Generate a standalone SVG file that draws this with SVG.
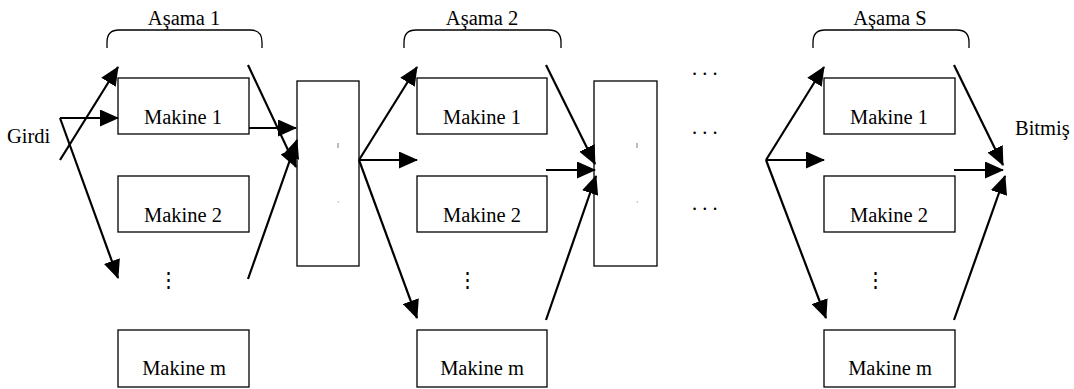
<svg xmlns="http://www.w3.org/2000/svg" width="1074" height="389" viewBox="0 0 1074 389" font-family="'Liberation Serif', 'DejaVu Serif', serif">
  <style>
    text { font-family: 'Liberation Serif', 'DejaVu Serif', serif; font-size: 20.5px; fill: #000; }
    .mid { text-anchor: middle; }
    .box { fill: #fff; stroke: #000; stroke-width: 1.3; }
    .brace { fill: none; stroke: #000; stroke-width: 1.3; }
    .arrow { fill: none; stroke: #000; stroke-width: 2.2; marker-end: url(#head); }
    .tick { stroke: #555; stroke-width: 0.8; }
  </style>
  <defs>
    <marker id="head" markerUnits="userSpaceOnUse" markerWidth="19" markerHeight="17" viewBox="0 0 19 17" refX="18" refY="8.5" orient="auto">
      <path d="M0,0 L19,8.5 L0,17 Z" fill="#000"/>
    </marker>
  </defs>

  <!-- stage headers -->
  <g id="stage1-header">
    <path class="brace" d="M107,48 V42 Q107,30 119,30 H250 Q262,30 262,42 V48"/>
    <text class="mid" x="184" y="25">Aşama 1</text>
  </g>
  <g id="stage2-header">
    <path class="brace" d="M404,48 V42 Q404,30 416,30 H549 Q561,30 561,42 V48"/>
    <text class="mid" x="482" y="25">Aşama 2</text>
  </g>
  <g id="stageS-header">
    <path class="brace" d="M813,48 V42 Q813,30 825,30 H957 Q969,30 969,42 V48"/>
    <text class="mid" x="890" y="25">Aşama S</text>
  </g>

  <!-- input / output labels -->
  <g id="input"><text x="7" y="143">Girdi</text></g>
  <g id="output"><text x="1015" y="135">Bitmiş</text></g>

  <!-- stage 1 machines -->
  <g id="s1-m1"><rect class="box" x="118" y="78" width="131" height="56"/><text class="mid" x="183" y="124">Makine 1</text></g>
  <g id="s1-m2"><rect class="box" x="118" y="176" width="131" height="56"/><text class="mid" x="183" y="222">Makine 2</text></g>
  <g id="s1-dots"><text class="mid" x="168" y="287">⋮</text></g>
  <g id="s1-mm"><rect class="box" x="118" y="330" width="131" height="57"/><text class="mid" x="184" y="375">Makine m</text></g>

  <!-- buffer 1 -->
  <g id="buffer1">
    <rect class="box" x="297" y="81" width="62" height="185"/>
    <line class="tick" x1="338" y1="143" x2="338" y2="148"/>
    <line class="tick" x1="338" y1="201.5" x2="338.5" y2="202.5"/>
  </g>

  <!-- stage 2 machines -->
  <g id="s2-m1"><rect class="box" x="417" y="78" width="130" height="56"/><text class="mid" x="482" y="124">Makine 1</text></g>
  <g id="s2-m2"><rect class="box" x="417" y="176" width="130" height="56"/><text class="mid" x="482" y="222">Makine 2</text></g>
  <g id="s2-dots"><text class="mid" x="467" y="287">⋮</text></g>
  <g id="s2-mm"><rect class="box" x="417" y="330" width="130" height="57"/><text class="mid" x="482" y="375">Makine m</text></g>

  <!-- buffer 2 -->
  <g id="buffer2">
    <rect class="box" x="594" y="81" width="63" height="185"/>
    <line class="tick" x1="637" y1="143" x2="637" y2="148"/>
    <line class="tick" x1="637" y1="201.5" x2="637.5" y2="202.5"/>
  </g>

  <!-- intermediate stages -->
  <g id="ellipsis">
    <text x="692" y="75" xml:space="preserve">. . .</text>
    <text x="692" y="134" xml:space="preserve">. . .</text>
    <text x="692" y="210" xml:space="preserve">. . .</text>
  </g>

  <!-- stage S machines -->
  <g id="sS-m1"><rect class="box" x="824" y="78" width="131" height="56"/><text class="mid" x="889" y="124">Makine 1</text></g>
  <g id="sS-m2"><rect class="box" x="824" y="176" width="131" height="56"/><text class="mid" x="889" y="222">Makine 2</text></g>
  <g id="sS-dots"><text class="mid" x="875" y="287">⋮</text></g>
  <g id="sS-mm"><rect class="box" x="824" y="330" width="131" height="57"/><text class="mid" x="890" y="375">Makine m</text></g>

  <!-- connectors -->
  <g id="connectors">
    <!-- input fan into stage 1 -->
    <line class="arrow" x1="60" y1="160" x2="118" y2="67"/>
    <line class="arrow" x1="60" y1="118" x2="118" y2="118"/>
    <line class="arrow" x1="60" y1="118" x2="118" y2="278"/>
    <!-- stage 1 into buffer 1 -->
    <line class="arrow" x1="248" y1="65" x2="296" y2="167"/>
    <line class="arrow" x1="249" y1="128" x2="296" y2="128"/>
    <line class="arrow" x1="248" y1="279" x2="297" y2="140"/>
    <!-- buffer 1 fan into stage 2 -->
    <line class="arrow" x1="359" y1="160" x2="417" y2="67"/>
    <line class="arrow" x1="359" y1="160" x2="417" y2="160"/>
    <line class="arrow" x1="359" y1="160" x2="417" y2="318"/>
    <!-- stage 2 into buffer 2 -->
    <line class="arrow" x1="546" y1="65" x2="595" y2="164"/>
    <line class="arrow" x1="546" y1="170" x2="595" y2="170"/>
    <line class="arrow" x1="546" y1="320" x2="596" y2="176"/>
    <!-- fan into stage S -->
    <line class="arrow" x1="766" y1="160" x2="824" y2="67"/>
    <line class="arrow" x1="766" y1="160" x2="824" y2="160"/>
    <line class="arrow" x1="766" y1="160" x2="826" y2="318"/>
    <!-- stage S to finished -->
    <line class="arrow" x1="954" y1="65" x2="1003" y2="165"/>
    <line class="arrow" x1="954" y1="170" x2="1003" y2="170"/>
    <line class="arrow" x1="954" y1="320" x2="1005" y2="176"/>
  </g>
</svg>
